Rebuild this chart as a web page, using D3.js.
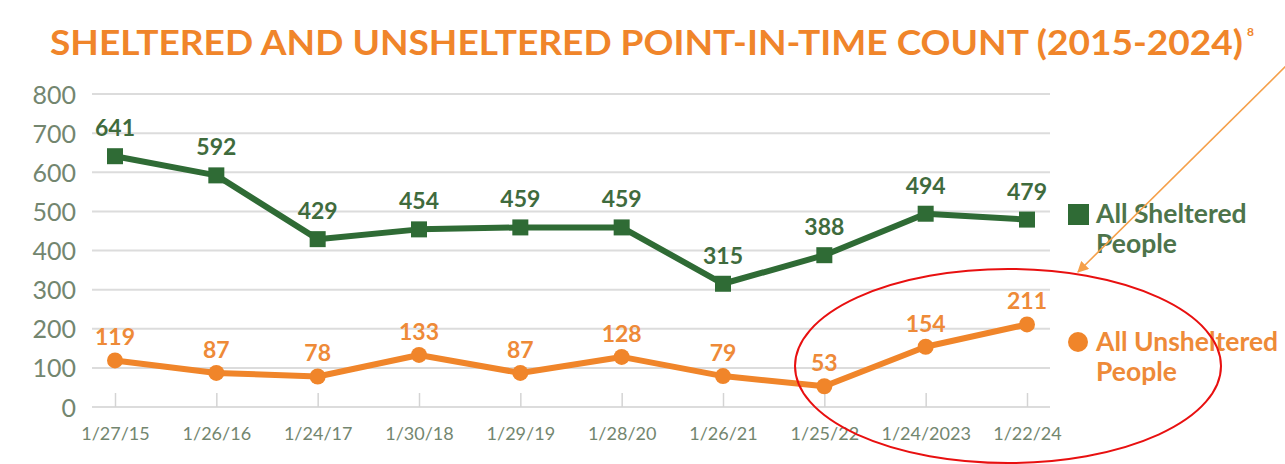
<!DOCTYPE html>
<html>
<head>
<meta charset="utf-8">
<script src="https://cdn.jsdelivr.net/npm/d3@7"></script>
<style>
  body { margin: 0; background: #fff; }
  svg { display: block; }
  .grid line { stroke: #dcdcdc; stroke-width: 2; }
  .axis text { fill: #73866f; font-family: Lato, sans-serif; }
</style>
</head>
<body>
<svg id="chart"></svg>
<script>
const dates = ['1/27/15', '1/26/16', '1/24/17', '1/30/18', '1/29/19', '1/28/20', '1/26/21', '1/25/22', '1/24/2023', '1/22/24'];
const sheltered = [641, 592, 429, 454, 459, 459, 315, 388, 494, 479];
const unsheltered = [119, 87, 78, 133, 87, 128, 79, 53, 154, 211];
const yTicks = [0, 100, 200, 300, 400, 500, 600, 700, 800];

const W = 1285, H = 464;
const green = '#2f6b35', orange = '#f0852a';

const svg = d3.select('#chart').attr('width', W).attr('height', H);

// 스케일
const x = d3.scalePoint().domain(dates).range([115, 1027]);
const y = d3.scaleLinear().domain([0, 800]).range([407, 94]);

// 제목
svg.append('text')
  .attr('x', 50).attr('y', 55)
  .attr('fill', orange)
  .attr('font-family', 'Lato, sans-serif')
  .attr('font-weight', 700)
  .attr('font-size', 35)
  .attr('textLength', 1193)
  .attr('lengthAdjust', 'spacingAndGlyphs')
  .text('SHELTERED AND UNSHELTERED POINT-IN-TIME COUNT (2015-2024)');
svg.append('text')
  .attr('x', 1247).attr('y', 36)
  .attr('fill', orange)
  .attr('font-family', 'Lato, sans-serif')
  .attr('font-weight', 700)
  .attr('font-size', 12)
  .text('8');

// 가로 눈금선
svg.append('g').attr('class', 'grid')
  .selectAll('line').data(yTicks).enter().append('line')
  .attr('x1', 92).attr('x2', 1050)
  .attr('y1', d => y(d)).attr('y2', d => y(d));

// Y축
const yAxis = d3.axisLeft(y).tickValues(yTicks).tickSize(0).tickPadding(0);
svg.append('g').attr('class', 'axis y')
  .attr('transform', 'translate(76, 0)')
  .call(yAxis)
  .call(g => g.select('.domain').remove())
  .selectAll('text').attr('font-size', 25).attr('font-weight', 400).attr('dy', '0.36em');

// X축 (위로 올라간 짧은 눈금)
const xAxis = d3.axisBottom(x).tickSize(-14).tickPadding(22);
svg.append('g').attr('class', 'axis x')
  .attr('transform', `translate(0, ${ y(0) })`)
  .call(xAxis)
  .call(g => g.select('.domain').remove())
  .call(g => g.selectAll('.tick line').attr('stroke', '#d4d4d4').attr('stroke-width', 1.5))
  .selectAll('text').attr('font-size', 18).attr('font-weight', 400).attr('dy', '0.6em');

const line = d3.line().x((d, i) => x(dates[i])).y(d => y(d));

// 쉼터 인원
svg.append('path').datum(sheltered)
  .attr('d', line).attr('fill', 'none')
  .attr('stroke', green).attr('stroke-width', 6).attr('stroke-linejoin', 'round');
svg.selectAll('rect.sq').data(sheltered).enter().append('rect')
  .attr('class', 'sq')
  .attr('x', (d, i) => x(dates[i]) - 8).attr('y', d => y(d) - 8)
  .attr('width', 16).attr('height', 16).attr('fill', green);
svg.selectAll('text.sl').data(sheltered).enter().append('text')
  .attr('class', 'sl')
  .attr('x', (d, i) => x(dates[i])).attr('y', d => y(d) - 20)
  .attr('text-anchor', 'middle')
  .attr('fill', '#3f6b3d')
  .attr('font-family', 'Lato, sans-serif').attr('font-weight', 700).attr('font-size', 23)
  .text(d => d);

// 비쉼터 인원
svg.append('path').datum(unsheltered)
  .attr('d', line).attr('fill', 'none')
  .attr('stroke', orange).attr('stroke-width', 6).attr('stroke-linejoin', 'round');
svg.selectAll('circle.dot').data(unsheltered).enter().append('circle')
  .attr('class', 'dot')
  .attr('cx', (d, i) => x(dates[i])).attr('cy', d => y(d))
  .attr('r', 8).attr('fill', orange);
svg.selectAll('text.ul').data(unsheltered).enter().append('text')
  .attr('class', 'ul')
  .attr('x', (d, i) => x(dates[i])).attr('y', d => y(d) - 15)
  .attr('text-anchor', 'middle')
  .attr('fill', '#ee8a38')
  .attr('font-family', 'Lato, sans-serif').attr('font-weight', 700).attr('font-size', 23)
  .text(d => d);

// 범례
const legend = svg.append('g')
  .attr('font-family', 'Lato, sans-serif').attr('font-weight', 700).attr('font-size', 26.5);
legend.append('rect').attr('x', 1068).attr('y', 204).attr('width', 21).attr('height', 21).attr('fill', green);
legend.append('text').attr('x', 1096).attr('y', 223).attr('fill', '#4d744b').text('All Sheltered');
legend.append('text').attr('x', 1096).attr('y', 253).attr('fill', '#4d744b').text('People');
legend.append('circle').attr('cx', 1078).attr('cy', 342).attr('r', 10).attr('fill', orange);
legend.append('text').attr('x', 1096).attr('y', 351).attr('fill', '#ee8a38').text('All Unsheltered');
legend.append('text').attr('x', 1096).attr('y', 381).attr('fill', '#ee8a38').text('People');

// 주석: 빨간 타원과 화살표
svg.append('ellipse')
  .attr('cx', 1008).attr('cy', 366).attr('rx', 213).attr('ry', 97)
  .attr('fill', 'none').attr('stroke', '#e81010').attr('stroke-width', 2);

svg.append('defs').append('marker')
  .attr('id', 'head').attr('viewBox', '0 0 10 10')
  .attr('refX', 9).attr('refY', 5)
  .attr('markerWidth', 7).attr('markerHeight', 7)
  .attr('orient', 'auto')
  .append('path').attr('d', 'M0,0 L10,5 L0,10 z').attr('fill', '#f5a04a');
svg.append('line')
  .attr('x1', 1292).attr('y1', 60).attr('x2', 1078).attr('y2', 272)
  .attr('stroke', '#f5a04a').attr('stroke-width', 1.6)
  .attr('marker-end', 'url(#head)');
</script>
</body>
</html>
